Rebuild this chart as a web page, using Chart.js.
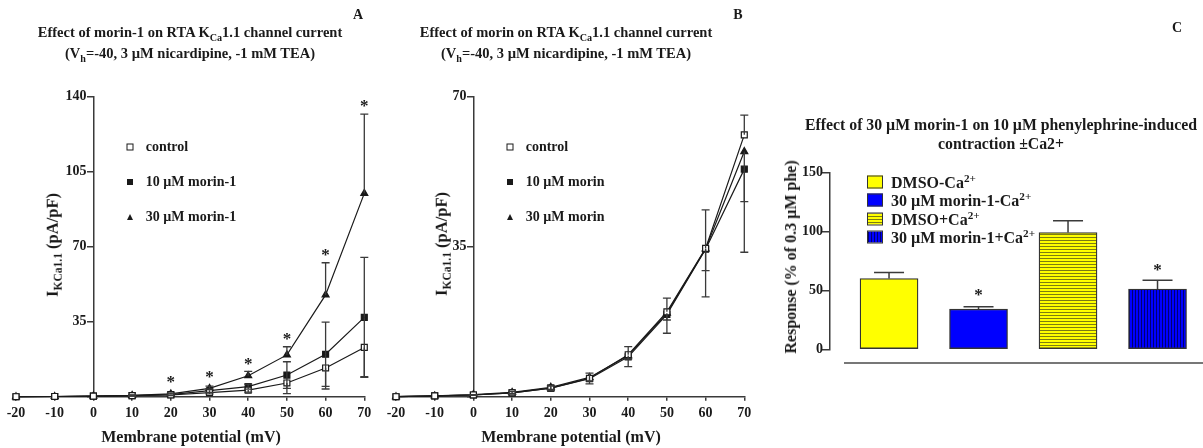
<!DOCTYPE html>
<html>
<head>
<meta charset="utf-8">
<script src="https://cdn.jsdelivr.net/npm/chart.js@4/dist/chart.umd.min.js"></script>
<style>
  html, body { margin: 0; padding: 0; background: #fff; }
  #fig { position: relative; width: 1203px; height: 448px; overflow: hidden;
         font-family: "Liberation Serif", "Times New Roman", serif; font-weight: bold; color: #1a1a1a; }
  #fig canvas { position: absolute; top: 0; }
  .txt { position: absolute; white-space: nowrap; transform: translate(-50%, -50%); line-height: 1; }
  .title { font-size: 14.5px; }
  .titleC { font-size: 15.8px; }
  .axis { font-size: 16px; }
  .yaxis { font-size: 16.5px; }
  .letter { font-size: 14px; }
  .rot { transform: translate(-50%, -50%) rotate(-90deg); }
  .leg { position: absolute; white-space: nowrap; font-size: 14px; line-height: 1; transform: translateY(-50%); }
  .legC { font-size: 16px; }
  sub, sup { font-size: 70%; line-height: 0; }
  .mk { position: absolute; transform: translate(-50%, -50%); }
  .sw { position: absolute; width: 14px; height: 11px; border: 1px solid #333; transform: translateY(-50%); }
</style>
</head>
<body>
<div id="fig">
  <canvas id="chartA" width="380" height="448" style="left:0"></canvas>
  <canvas id="chartB" width="380" height="448" style="left:380px"></canvas>
  <canvas id="chartC" width="443" height="448" style="left:760px"></canvas>
</div>
<script>
// membrane potentials (mV)
const voltages = [-20, -10, 0, 10, 20, 30, 40, 50, 60, 70];

// A: morin-1, I KCa1.1 (pA/pF), mean and SEM
const seriesA = ['control', '10 µM morin-1', '30 µM morin-1'];
const ctrlA = [0, 0.1, 0.3, 0.5, 0.8, 1.9, 3.1, 6.4, 13.4, 23.0];
const ctrlA_sem = [0, 0, 0, 0.2, 0.3, 0.6, 1.0, 5.0, 9.8, 13.7];
const m10A = [0, 0.1, 0.3, 0.5, 1.0, 2.8, 4.7, 10.1, 19.8, 37.0];
const m10A_sem = [0, 0, 0, 0.2, 0.3, 0.8, 1.2, 6.2, 15.0, 28.0];
const m30A = [0, 0.1, 0.3, 0.6, 1.3, 3.9, 9.8, 19.5, 47.5, 94.9];
const m30A_sem = [0, 0, 0, 0.2, 0.4, 1.0, 2.0, 3.8, 15.0, 37.0];
const starsA = [false, false, false, false, true, true, true, true, true, true];
const ticksA_y = { min: 0, max: 140, step: 35 };

// B: morin
const seriesB = ['control', '10 µM morin', '30 µM morin'];
const ctrlB = [0, 0.2, 0.4, 0.9, 2.0, 4.3, 9.8, 19.8, 34.6, 61.1];
const ctrlB_sem = [0, 0, 0.1, 0.3, 0.5, 1.2, 1.9, 3.2, 9.0, 4.6];
const m10B = [0, 0.2, 0.4, 0.9, 2.0, 4.2, 9.3, 19.2, 34.4, 53.1];
const m10B_sem = [0, 0, 0.1, 0.3, 0.5, 1.2, 2.3, 4.4, 11.1, 19.4];
const m30B = [0, 0.2, 0.5, 1.0, 2.2, 4.5, 9.6, 19.5, 34.5, 57.2];
const m30B_sem = [0, 0, 0.1, 0.3, 0.5, 0.8, 0.8, 1.6, 5.1, 11.7];
const ticksB_y = { min: 0, max: 70, step: 35 };

// C: phenylephrine contraction, % of 0.3 µM phe
const groupsC = ['DMSO-Ca2+', '30 µM morin-1-Ca2+', 'DMSO+Ca2+', '30 µM morin-1+Ca2+'];
const responseC = [60, 34, 99, 51];
const responseC_sem = [5, 2, 10, 7.5];
const starsC = [false, true, false, true];
const ticksC_y = { min: 0, max: 150, step: 50 };

const FONT = '"Liberation Serif", "Times New Roman", serif';
const INK = '#1a1a1a';
const AXIS = '#3a3a3a';
const TICK_FONT = { family: FONT, size: 14, weight: 'bold' };
// labels of an axis placed at a data value sit flush on the line, so pad them with spaces
const padLabel = v => v + '  ';

// error bars (one direction or both) drawn over the marks
const errorBars = {
  id: 'errorBars',
  afterDatasetsDraw(chart, args, opts) {
    const ctx = chart.ctx;
    const ys = chart.scales.y;
    chart.data.datasets.forEach((ds, di) => {
      if (!ds.errors) return;
      const meta = chart.getDatasetMeta(di);
      ctx.save();
      ctx.strokeStyle = opts.color;
      ctx.lineWidth = opts.width;
      meta.data.forEach((el, i) => {
        const err = ds.errors[i];
        if (!err) return;
        const raw = ds.data[i];
        const v = typeof raw === 'object' ? raw.y : raw;
        const ends = [];
        if (ds.errDir !== 'down') ends.push(v + err);
        if (ds.errDir !== 'up') ends.push(v - err);
        ends.forEach(e => {
          const py = ys.getPixelForValue(e);
          ctx.beginPath();
          ctx.moveTo(el.x, el.y);
          ctx.lineTo(el.x, py);
          ctx.moveTo(el.x - opts.cap / 2, py);
          ctx.lineTo(el.x + opts.cap / 2, py);
          ctx.stroke();
        });
      });
      ctx.restore();
    });
  }
};

// significance asterisks above the error bar
const sigStars = {
  id: 'sigStars',
  afterDatasetsDraw(chart, args, opts) {
    const ctx = chart.ctx;
    const ys = chart.scales.y;
    chart.data.datasets.forEach((ds, di) => {
      if (!ds.stars) return;
      const meta = chart.getDatasetMeta(di);
      ctx.save();
      ctx.fillStyle = INK;
      ctx.font = 'bold ' + opts.size + 'px ' + FONT;
      ctx.textAlign = 'center';
      ctx.textBaseline = 'middle';
      meta.data.forEach((el, i) => {
        if (!ds.stars[i]) return;
        const raw = ds.data[i];
        const v = typeof raw === 'object' ? raw.y : raw;
        const top = Math.min(ys.getPixelForValue(v + (ds.errors ? ds.errors[i] : 0)), el.y - 4);
        ctx.fillText('*', el.x, top - opts.gap);
      });
      ctx.restore();
    });
  }
};

function lineSet(label, data, errors, errDir, style, fill, stars) {
  return {
    label, data, errors, errDir, stars,
    borderColor: INK, borderWidth: 1.2,
    pointStyle: style, pointRadius: style === 'triangle' ? 4 : 4.2,
    pointBackgroundColor: fill, pointBorderColor: INK, pointBorderWidth: 1.2,
    tension: 0, clip: false
  };
}

function ivOptions(yt) {
  return {
    responsive: false,
    animation: false,
    layout: { padding: { left: 16, right: 15.7, top: 96.7, bottom: 0 } },
    plugins: {
      legend: { display: false },
      tooltip: { enabled: false },
      errorBars: { color: AXIS, width: 1.3, cap: 8 },
      sigStars: { size: 17, gap: 7 }
    },
    scales: {
      x: {
        type: 'linear', min: -20, max: 70,
        afterFit(s) { s.height = 51.3; },
        border: { color: AXIS, width: 1.5 },
        grid: { display: true, drawOnChartArea: false, tickLength: 4, color: AXIS, lineWidth: 1.5 },
        ticks: { stepSize: 10, color: INK, font: TICK_FONT, padding: 4, maxRotation: 0 }
      },
      y: {
        type: 'linear', min: yt.min, max: yt.max,
        position: { x: 0 },
        border: { color: AXIS, width: 1.5 },
        grid: { display: true, drawOnChartArea: false, tickLength: 6, color: AXIS, lineWidth: 1.5 },
        ticks: { stepSize: yt.step, color: INK, font: TICK_FONT, callback: v => (v === 0 ? '' : padLabel(v)) }
      }
    }
  };
}

new Chart(document.getElementById('chartA'), {
  type: 'line',
  data: {
    labels: voltages,
    datasets: [
      lineSet(seriesA[0], voltages.map((x, i) => ({ x, y: ctrlA[i] })), ctrlA_sem, 'down', 'rect', '#fff'),
      lineSet(seriesA[1], voltages.map((x, i) => ({ x, y: m10A[i] })), m10A_sem, 'both', 'rect', INK),
      lineSet(seriesA[2], voltages.map((x, i) => ({ x, y: m30A[i] })), m30A_sem, 'up', 'triangle', INK, starsA)
    ]
  },
  options: ivOptions(ticksA_y),
  plugins: [errorBars, sigStars]
});

new Chart(document.getElementById('chartB'), {
  type: 'line',
  data: {
    labels: voltages,
    datasets: [
      lineSet(seriesB[0], voltages.map((x, i) => ({ x, y: ctrlB[i] })), ctrlB_sem, 'up', 'rect', '#fff'),
      lineSet(seriesB[1], voltages.map((x, i) => ({ x, y: m10B[i] })), m10B_sem, 'down', 'rect', INK),
      lineSet(seriesB[2], voltages.map((x, i) => ({ x, y: m30B[i] })), m30B_sem, 'down', 'triangle', INK)
    ]
  },
  options: ivOptions(ticksB_y),
  plugins: [errorBars, sigStars]
});

// striped fills for the +Ca2+ bars
function stripes(base, line, vertical) {
  const c = document.createElement('canvas');
  c.width = vertical ? 3 : 1;
  c.height = vertical ? 1 : 3;
  const g = c.getContext('2d');
  g.fillStyle = base;
  g.fillRect(0, 0, c.width, c.height);
  g.fillStyle = line;
  g.fillRect(0, 0, 1, 1);
  return g.createPattern(c, 'repeat');
}
const fillsC = ['#ffff00', '#0000ff', stripes('#ffff00', '#7d7d10', false), stripes('#0000ff', '#000070', true)];

new Chart(document.getElementById('chartC'), {
  type: 'bar',
  data: {
    datasets: [{
      data: groupsC.map((g, i) => ({ x: i + 1, y: responseC[i] })),
      errors: responseC_sem, errDir: 'up', stars: starsC,
      backgroundColor: fillsC,
      borderColor: '#333', borderWidth: 1.3, borderSkipped: false,
      barThickness: 58
    }]
  },
  options: {
    responsive: false,
    animation: false,
    layout: { padding: { left: 85, right: 1, top: 172.3, bottom: 98.7 } },
    plugins: {
      legend: { display: false },
      tooltip: { enabled: false },
      errorBars: { color: AXIS, width: 1.5, cap: 30 },
      sigStars: { size: 17, gap: 10 }
    },
    scales: {
      x: {
        type: 'linear', min: 0.508, max: 4.497, offset: false,
        position: { y: -11.9 },
        border: { color: '#777', width: 2 },
        grid: { display: false, offset: false },
        ticks: { display: false }
      },
      y: {
        type: 'linear', min: ticksC_y.min, max: ticksC_y.max,
        position: { x: 0.34 },
        border: { color: AXIS, width: 1.5 },
        grid: { display: true, drawOnChartArea: false, tickLength: 7, color: AXIS, lineWidth: 1.5 },
        ticks: { stepSize: ticksC_y.step, color: INK, font: TICK_FONT, callback: padLabel }
      }
    }
  },
  plugins: [errorBars, sigStars]
});

// text overlays: titles, axis titles, legends
const fig = document.getElementById('fig');
function put(html, x, y, cls) {
  const d = document.createElement('div');
  d.className = cls;
  d.style.left = x + 'px';
  d.style.top = y + 'px';
  d.innerHTML = html;
  fig.appendChild(d);
  return d;
}
const sup = s => s.replace(/Ca2\+/g, 'Ca<sup>2+</sup>');

put('A', 358, 15, 'txt letter');
put('B', 738, 15, 'txt letter');
put('C', 1177, 28, 'txt letter');

put('Effect of morin-1 on RTA K<sub>Ca</sub>1.1 channel current', 190, 31.7, 'txt title');
put('(V<sub>h</sub>=-40, 3 µM nicardipine, -1 mM TEA)', 190, 53.3, 'txt title');
put('Effect of morin on RTA K<sub>Ca</sub>1.1 channel current', 566, 31.7, 'txt title');
put('(V<sub>h</sub>=-40, 3 µM nicardipine, -1 mM TEA)', 566, 53.3, 'txt title');
put('Effect of 30 µM morin-1 on 10 µM phenylephrine-induced', 1001, 125, 'txt titleC');
put('contraction ±Ca2+', 1001, 144.3, 'txt titleC');

put('I<sub>KCa1.1</sub> (pA/pF)', 53, 245, 'txt yaxis rot');
put('I<sub>KCa1.1</sub> (pA/pF)', 442, 244, 'txt yaxis rot');
put('Response (% of 0.3 µM phe)', 791, 257, 'txt axis rot');
put('Membrane potential (mV)', 191, 437, 'txt axis');
put('Membrane potential (mV)', 571, 437, 'txt axis');

const markers = [
  'width:5px;height:5px;border:1px solid #1a1a1a;background:#fff',
  'width:6px;height:6px;background:#1a1a1a',
  'width:0;height:0;border-left:3.5px solid transparent;border-right:3.5px solid transparent;border-bottom:6px solid #1a1a1a'
];
[[seriesA, 130], [seriesB, 510]].forEach(([names, mx]) => {
  names.forEach((n, i) => {
    const y = 146.7 + i * 35;
    const m = put('', mx, y, 'mk');
    m.style.cssText += markers[i];
    put(n, mx + 15.7, y, 'leg');
  });
});

const swatches = [
  'background:#ffff00',
  'background:#0000ff',
  'background:repeating-linear-gradient(to bottom,#7d7d10 0 1px,#ffff00 1px 3px)',
  'background:repeating-linear-gradient(to right,#000070 0 1px,#0000ff 1px 3px)'
];
groupsC.forEach((g, i) => {
  const y = 182 + i * 18.3;
  const s = put('', 867, y, 'sw');
  s.style.cssText += swatches[i];
  put(sup(g), 891, y + 1, 'leg legC');
});
</script>
</body>
</html>
